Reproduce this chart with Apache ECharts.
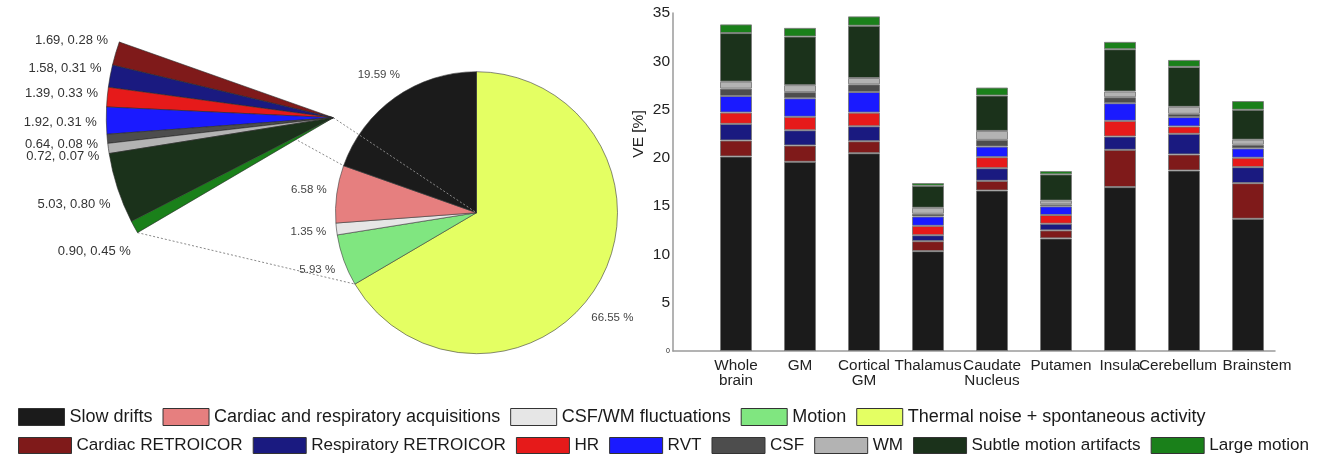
<!DOCTYPE html>
<html><head><meta charset="utf-8">
<script src="https://cdn.jsdelivr.net/npm/echarts@6/dist/echarts.min.js"></script>
<style>html,body{margin:0;padding:0;background:#fff}#c{width:1330px;height:455px}</style>
</head><body><div id="c"></div>
<script>
const FONT = '"Liberation Sans", Arial, Helvetica, sans-serif';

// ---- Main pie (GM variance explained, %) ----
const pieNames = ['Thermal noise + spontaneous activity', 'Motion', 'CSF/WM fluctuations', 'Cardiac and respiratory acquisitions', 'Slow drifts'];
const pieValues = [66.55, 5.93, 1.35, 6.58, 19.59];
const legendRow1 = ['Slow drifts', 'Cardiac and respiratory acquisitions', 'CSF/WM fluctuations', 'Motion', 'Thermal noise + spontaneous activity'];

// ---- Exploded detail fan ----
const fanNames = ['Cardiac RETROICOR', 'Respiratory RETROICOR', 'HR', 'RVT', 'CSF', 'WM', 'Subtle motion artifacts', 'Large motion'];
const fanValues = [1.69, 1.58, 1.39, 1.92, 0.64, 0.72, 5.03, 0.90];
const fanSecond = [0.28, 0.31, 0.33, 0.31, 0.08, 0.07, 0.80, 0.45];

// ---- Stacked bars (VE [%]) ----
const regions = ['Whole brain', 'GM', 'Cortical GM', 'Thalamus', 'Caudate Nucleus', 'Putamen', 'Insula', 'Cerebellum', 'Brainstem'];
const slowDrifts       = [20.14, 19.59, 20.48, 10.34, 16.62, 11.66, 16.97, 18.69, 13.69];
const cardiacRetroicor = [1.66, 1.69, 1.24, 1.03, 1.00, 0.83, 3.86, 1.66, 3.69];
const respRetroicor    = [1.72, 1.58, 1.55, 0.62, 1.31, 0.69, 1.38, 2.14, 1.66];
const hrVals           = [1.17, 1.39, 1.41, 0.97, 1.14, 0.90, 1.62, 0.76, 0.97];
const rvtVals          = [1.72, 1.92, 2.14, 0.97, 1.10, 0.90, 1.83, 0.97, 0.97];
const csfVals          = [0.76, 0.64, 0.79, 0.28, 0.69, 0.21, 0.62, 0.34, 0.38];
const wmVals           = [0.72, 0.72, 0.66, 0.62, 0.93, 0.38, 0.59, 0.72, 0.52];
const subtleMotion     = [5.03, 5.03, 5.41, 2.28, 3.66, 2.72, 4.38, 4.14, 3.10];
const largeMotion      = [0.90, 0.90, 0.97, 0.28, 0.83, 0.34, 0.76, 0.72, 0.90];
const yTicks = [0, 5, 10, 15, 20, 25, 30, 35];

const colors = {
  'Slow drifts': '#1b1b1b',
  'Cardiac and respiratory acquisitions': '#e67f7f',
  'CSF/WM fluctuations': '#e6e6e6',
  'Motion': '#80e680',
  'Thermal noise + spontaneous activity': '#e4ff63',
  'Cardiac RETROICOR': '#7f1a1a',
  'Respiratory RETROICOR': '#1a1a80',
  'HR': '#e61a1a',
  'RVT': '#1a1aff',
  'CSF': '#4d4d4d',
  'WM': '#b3b3b3',
  'Subtle motion artifacts': '#1b321b',
  'Large motion': '#1a801a'
};
// small horizontal nudges of some category labels (style only, px)
const labelNudge = { 'Putamen': 5, 'Cerebellum': -6, 'Brainstem': 9 };

const barSeriesDefs = [
  ['Slow drifts', slowDrifts],
  ['Cardiac RETROICOR', cardiacRetroicor],
  ['Respiratory RETROICOR', respRetroicor],
  ['HR', hrVals],
  ['RVT', rvtVals],
  ['CSF', csfVals],
  ['WM', wmVals],
  ['Subtle motion artifacts', subtleMotion],
  ['Large motion', largeMotion]
];

// geometry of pies (layout)
const mainCenter = [476.5, 212.7], mainR = 141;
const fanCenter = [333.3, 117.7], fanR = 227;
const total = pieValues.reduce((a, b) => a + b, 0);
const aThermalEnd = 90 - 360 * pieValues[0] / total;                       // clockwise from 12 o'clock
const aDetailEnd = aThermalEnd - 360 * (pieValues[1] + pieValues[2] + pieValues[3]) / total;
const fanStart = aDetailEnd + 360, fanEnd = aThermalEnd + 360;
function pt(c, r, deg) { const a = deg * Math.PI / 180; return [c[0] + r * Math.cos(a), c[1] - r * Math.sin(a)]; }
const P1 = pt(mainCenter, mainR, aThermalEnd);
const P2 = pt(mainCenter, mainR, aDetailEnd);
const T = pt(fanCenter, fanR, fanStart);
const B = pt(fanCenter, fanR, fanEnd);
const dashStyle = { stroke: '#8a8a8a', lineWidth: 1, lineDash: [2, 2] };

const chart = echarts.init(document.getElementById('c'), null, { renderer: 'canvas' });

const series = [
  {
    type: 'pie', name: 'main', center: mainCenter, radius: mainR,
    startAngle: 90, clockwise: true, avoidLabelOverlap: false,
    data: pieNames.map((n, i) => ({ name: n, value: pieValues[i], itemStyle: { color: colors[n] } })),
    itemStyle: { borderColor: '#3a3a3a', borderWidth: 0.6 },
    label: { show: true, position: 'outside', formatter: p => p.value.toFixed(2) + ' %', fontSize: 11.5, color: '#444', fontFamily: FONT, distanceToLabelLine: 0 },
    labelLine: { show: false, length: mainR * 0.2, length2: 0 },
    labelLayout: p => p.dataIndex === 0 ? { align: 'center', dx: -11, dy: 21, hideOverlap: false } : { align: 'center', hideOverlap: false },
    emphasis: { disabled: true }, animation: false, z: 2
  },
  {
    type: 'pie', name: 'fan', center: fanCenter, radius: fanR,
    startAngle: fanStart, endAngle: fanEnd, clockwise: false, avoidLabelOverlap: false,
    data: fanNames.map((n, i) => ({ name: n, value: fanValues[i], itemStyle: { color: colors[n] } })),
    itemStyle: { borderColor: '#2a2a2a', borderWidth: 0.6 },
    label: { show: true, position: 'outside', formatter: p => fanValues[p.dataIndex].toFixed(2) + ', ' + fanSecond[p.dataIndex].toFixed(2) + ' %', fontSize: 13, color: '#333', fontFamily: FONT, distanceToLabelLine: 0 },
    labelLine: { show: false, length: 48, length2: 0 },
    labelLayout: () => ({ align: 'center', dx: 2, dy: 1, hideOverlap: false }),
    emphasis: { disabled: true }, animation: false, z: 2
  }
];

barSeriesDefs.forEach(([name, vals]) => {
  series.push({
    type: 'bar', name: name, stack: 'total', barWidth: '50%',
    xAxisIndex: 1, yAxisIndex: 1,
    data: vals.slice(),
    itemStyle: { color: colors[name], borderColor: 'rgba(120,120,120,0.85)', borderWidth: 1 },
    emphasis: { disabled: true }, animation: false
  });
});

const yMin = yTicks[0], yMax = yTicks[yTicks.length - 1];

const catRich = { c: { fontSize: 15.3, lineHeight: 14.5, color: '#222', fontFamily: FONT } };
Object.keys(labelNudge).forEach((k, i) => {
  const d = labelNudge[k];
  catRich['n' + i] = { fontSize: 15.3, lineHeight: 14.5, color: '#222', fontFamily: FONT, padding: d > 0 ? [0, 0, 0, 2 * d] : [0, -2 * d, 0, 0] };
});

const option = {
  backgroundColor: '#fff',
  animation: false,
  textStyle: { fontFamily: FONT },
  grid: [
    { left: 673, right: 55, top: 13, bottom: 104, containLabel: false },   // axes frame
    { left: 704, right: 50, top: 13, bottom: 104, containLabel: false }    // bar bands
  ],
  xAxis: [
    {
      gridIndex: 0, type: 'value', min: 0, max: 1,
      axisLine: { show: true, onZero: false, lineStyle: { color: '#9a9a9a', width: 1.5 } },
      axisTick: { show: false }, splitLine: { show: false }, axisLabel: { show: false }
    },
    {
      gridIndex: 1, type: 'category', data: regions,
      axisLine: { show: false }, axisTick: { show: false }, splitLine: { show: false },
      axisLabel: {
        interval: 0, margin: 8, fontSize: 15.3, lineHeight: 14.5, color: '#222', fontFamily: FONT,
        formatter: v => {
          const keys = Object.keys(labelNudge);
          const k = keys.indexOf(v);
          const st = k >= 0 ? 'n' + k : 'c';
          return v.split(' ').map(w => '{' + st + '|' + w + '}').join('\n');
        },
        rich: catRich
      }
    }
  ],
  yAxis: [
    {
      gridIndex: 0, type: 'value', min: yMin, max: yMax, interval: 5,
      name: 'VE [%]', nameLocation: 'middle', nameGap: 26, nameRotate: 90,
      nameTextStyle: { fontSize: 15.5, color: '#222', fontFamily: FONT, padding: [0, 0, 0, 96] },
      axisLine: { show: true, lineStyle: { color: '#9a9a9a', width: 1.5 } },
      axisTick: { show: false }, splitLine: { show: false },
      axisLabel: {
        margin: 3, fontSize: 15.5, color: '#222', fontFamily: FONT,
        formatter: v => v === 0 ? '{s|0}' : String(v),
        rich: { s: { fontSize: 7, color: '#222' } }
      }
    },
    {
      gridIndex: 1, type: 'value', min: yMin, max: yMax, interval: 5, show: false,
      splitLine: { show: false }
    }
  ],
  legend: [
    {
      data: legendRow1,
      left: 18, top: 408, width: 1310, padding: 0, itemWidth: 46, itemHeight: 17, itemGap: 10, icon: 'rect',
      selectedMode: false,
      textStyle: { fontSize: 18, lineHeight: 17, color: '#1a1a1a', fontFamily: FONT },
      itemStyle: { borderColor: '#333', borderWidth: 1 }
    },
    {
      data: fanNames,
      left: 18, top: 437, width: 1310, padding: 0, itemWidth: 53, itemHeight: 16, itemGap: 10, icon: 'rect',
      selectedMode: false,
      textStyle: { fontSize: 17.1, lineHeight: 16, color: '#1a1a1a', fontFamily: FONT },
      itemStyle: { borderColor: '#333', borderWidth: 1 }
    }
  ],
  graphic: [
    { type: 'line', z: 1, silent: true, shape: { x1: T[0], y1: T[1], x2: P2[0], y2: P2[1] }, style: dashStyle },
    { type: 'line', z: 1, silent: true, shape: { x1: B[0], y1: B[1], x2: P1[0], y2: P1[1] }, style: dashStyle },
    { type: 'line', z: 100, silent: true, shape: { x1: fanCenter[0], y1: fanCenter[1], x2: mainCenter[0], y2: mainCenter[1] }, style: dashStyle }
  ],
  series: series
};
chart.setOption(option);
</script>
</body></html>
